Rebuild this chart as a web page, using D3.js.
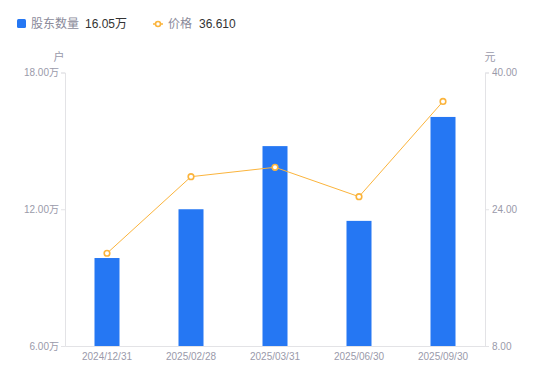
<!DOCTYPE html>
<html lang="zh">
<head>
<meta charset="UTF-8">
<title>股东数量与价格</title>
<script src="https://d3js.org/d3.v7.min.js"></script>
<style>
    body { margin: 0; background: #fff; font-family: "Liberation Sans", "Noto Sans CJK SC", sans-serif; }
    svg text { font-family: "Liberation Sans", "Noto Sans CJK SC", sans-serif; }
    .tick text { fill: #9a9aaa; font-size: 10px; }
    .axis path, .axis line { stroke: #e3e3e6; }
</style>
</head>
<body>
<svg id="chart" width="550" height="381"></svg>
<script>
// data
const dates = ['2024/12/31', '2025/02/28', '2025/03/31', '2025/06/30', '2025/09/30'];
const holders = [9.86, 12.00, 14.77, 11.49, 16.05];   // 万户
const prices = [18.85, 27.81, 28.91, 25.47, 36.61];   // 元
const leftTicks = [6, 12, 18];
const rightTicks = [8, 24, 40];

const svg = d3.select('#chart');
const m = { left: 65, right: 65, top: 72.5, bottom: 346 };

const x = d3.scaleBand().domain(dates).range([m.left, 550 - m.right]);
const yL = d3.scaleLinear().domain([6, 18]).range([m.bottom, m.top]);
const yR = d3.scaleLinear().domain([8, 40]).range([m.bottom, m.top]);

const blue = '#2577f3';
const orange = '#fbb43c';

// axes
svg.append('g').attr('class', 'axis')
    .attr('transform', `translate(${m.left},0)`)
    .call(d3.axisLeft(yL).tickValues(leftTicks).tickSize(4).tickFormat(d => d.toFixed(2) + '万'))
    .call(g => g.selectAll('text').attr('dx', '1'));

svg.append('g').attr('class', 'axis')
    .attr('transform', `translate(${550 - m.right},0)`)
    .call(d3.axisRight(yR).tickValues(rightTicks).tickSize(4).tickFormat(d => d.toFixed(2)));

svg.append('g').attr('class', 'axis')
    .attr('transform', `translate(0,${m.bottom})`)
    .call(d3.axisBottom(x).tickSize(0).tickPadding(7));

// axis titles
svg.append('text').attr('x', 59).attr('y', 61).attr('text-anchor', 'middle')
    .attr('fill', '#9a9aaa').attr('font-size', 11).text('户');
svg.append('text').attr('x', 490).attr('y', 61).attr('text-anchor', 'middle')
    .attr('fill', '#9a9aaa').attr('font-size', 11).text('元');

// bars
const bw = 25;
svg.append('g').selectAll('rect').data(holders).join('rect')
    .attr('x', (d, i) => x(dates[i]) + x.bandwidth() / 2 - bw / 2)
    .attr('y', d => yL(d))
    .attr('width', bw)
    .attr('height', d => m.bottom - yL(d))
    .attr('fill', blue);

// price line
const line = d3.line()
    .x((d, i) => x(dates[i]) + x.bandwidth() / 2)
    .y(d => yR(d));
svg.append('path').datum(prices)
    .attr('d', line).attr('fill', 'none')
    .attr('stroke', orange).attr('stroke-width', 1);

svg.append('g').selectAll('circle').data(prices).join('circle')
    .attr('cx', (d, i) => x(dates[i]) + x.bandwidth() / 2)
    .attr('cy', d => yR(d))
    .attr('r', 2.8)
    .attr('fill', '#fff')
    .attr('stroke', orange)
    .attr('stroke-width', 1.6);

// legend
const lg = svg.append('g').attr('font-size', 12);
lg.append('rect').attr('x', 17).attr('y', 19).attr('width', 9).attr('height', 9).attr('rx', 1.5).attr('fill', blue);
lg.append('text').attr('x', 31).attr('y', 28).attr('fill', '#8a8a9a').text('股东数量');
lg.append('text').attr('x', 85).attr('y', 28).attr('fill', '#333').text(holders[holders.length - 1].toFixed(2) + '万');
lg.append('line').attr('x1', 153).attr('x2', 163).attr('y1', 24).attr('y2', 24).attr('stroke', orange).attr('stroke-width', 1.5);
lg.append('circle').attr('cx', 158).attr('cy', 24).attr('r', 2.5).attr('fill', '#fff').attr('stroke', orange).attr('stroke-width', 1.6);
lg.append('text').attr('x', 168).attr('y', 28).attr('fill', '#8a8a9a').text('价格');
lg.append('text').attr('x', 199).attr('y', 28).attr('fill', '#333').text(prices[prices.length - 1].toFixed(3));
</script>
</body>
</html>
